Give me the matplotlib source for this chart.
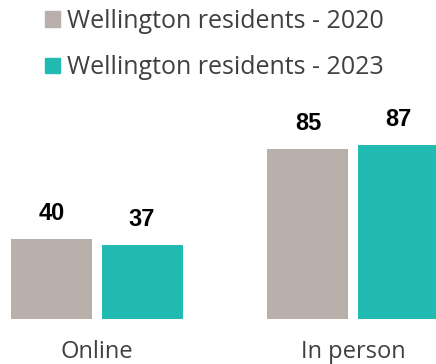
import numpy as np
import matplotlib.pyplot as plt
from matplotlib.patches import Patch

# --------------------------------------------------
# Data
# --------------------------------------------------
categories = ["Online", "In person"]
series_names = ["Wellington residents - 2020", "Wellington residents - 2023"]
values_2020 = [40, 85]
values_2023 = [37, 87]

GRAY = "#BAB0AB"
TEAL = "#21BBB1"
TEXT = "#404040"

plt.rcParams["font.family"] = ["Open Sans", "DejaVu Sans"]

# --------------------------------------------------
# Plot
# --------------------------------------------------
fig = plt.figure(figsize=(4.36, 3.64), dpi=100)
ax = fig.add_axes([0, 45 / 364, 1, 319 / 364])

x = np.arange(len(categories))
width = 0.316
offset = 0.176

bars1 = ax.bar(x - offset, values_2020, width, color=GRAY)
bars2 = ax.bar(x + offset, values_2023, width, color=TEAL)

for bars in (bars1, bars2):
    for b in bars:
        ax.annotate(f"{b.get_height():.0f}",
                    (b.get_x() + b.get_width() / 2, b.get_height()),
                    xytext=(0, 10), textcoords="offset points",
                    ha="center", va="bottom", fontsize=17,
                    fontweight="bold", family="Liberation Sans", color="black")

ax.set_xlim(-97 / 256, 339 / 256)
ax.set_ylim(0, 159.5)
ax.set_xticks(x)
ax.set_xticklabels(categories, fontsize=17, color=TEXT)
ax.tick_params(axis="x", length=0, pad=15)
ax.set_yticks([])
for s in ax.spines.values():
    s.set_visible(False)

handles = [Patch(color=GRAY), Patch(color=TEAL)]
fig.legend(handles, series_names, loc="upper left",
           bbox_to_anchor=(42 / 436, 0.982), frameon=False,
           fontsize=18, labelcolor=TEXT,
           handlelength=0.6, handleheight=0.6,
           handletextpad=0.3, labelspacing=0.85,
           borderpad=0.1, borderaxespad=0)

fig.savefig("out.png", dpi=100)
